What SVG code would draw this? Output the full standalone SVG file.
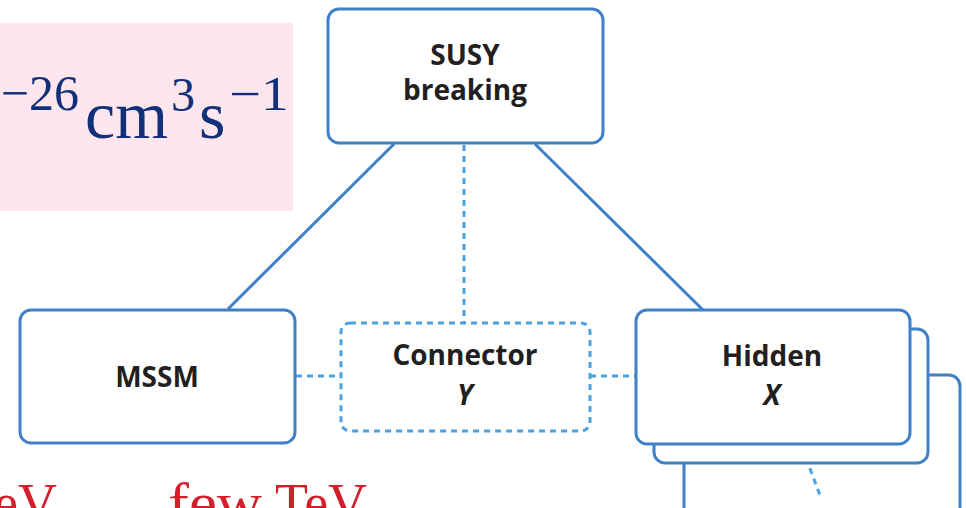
<svg xmlns="http://www.w3.org/2000/svg" width="966" height="508" viewBox="0 0 966 508">
<style>
.box{fill:#fff;stroke:#3f80c6;stroke-width:3}
.dbox{fill:#fff;stroke:#4ba2de;stroke-width:3;stroke-dasharray:6 5}
.lbl{font-family:"Open Sans","Liberation Sans",sans-serif;font-weight:700;font-size:28px;fill:#231f20;text-anchor:middle}
.it{font-style:italic}
.sol{stroke:#3f80c6;stroke-width:3;fill:none}
.dsh{stroke:#4ba2de;stroke-width:3;fill:none;stroke-dasharray:6 5}
.math{font-family:"Liberation Serif","DejaVu Serif",serif;fill:#12307a}
.red{font-family:"Liberation Serif","DejaVu Serif",serif;fill:#d21f2b;font-size:54px}
</style>
<rect x="0" y="23" width="293" height="188" fill="#fde6ee"/>
<g id="formula">
<text class="math" x="79" y="110" font-size="50" text-anchor="end">−26</text>
<text class="math" x="85" y="138" font-size="68" textLength="83" lengthAdjust="spacingAndGlyphs">cm</text>
<text class="math" x="171" y="111" font-size="48">3</text>
<text class="math" x="199" y="138" font-size="68">s</text>
<text class="math" x="229" y="110" font-size="48" textLength="60" lengthAdjust="spacingAndGlyphs">−1</text>
</g>
<g id="bottomtext">
<text class="red" x="57" y="521" text-anchor="end">eV</text>
<text class="red" x="64" y="524">→</text>
<text class="red" x="131" y="530" font-size="48">∼</text>
<text class="red" x="168" y="521" textLength="94" lengthAdjust="spacingAndGlyphs">few</text>
<text class="red" x="275" y="521" textLength="92" lengthAdjust="spacingAndGlyphs">TeV</text>
</g>
<g id="connectors">
<line class="sol" x1="394" y1="144" x2="228" y2="309"/>
<line class="sol" x1="535" y1="144" x2="703" y2="310"/>
<line class="dsh" x1="464" y1="145" x2="464" y2="323"/>
<line class="dsh" x1="296" y1="376" x2="340" y2="376"/>
<line class="dsh" x1="590" y1="376" x2="635" y2="376"/>
</g>
<g id="susy">
<rect class="box" x="328" y="9" width="275" height="134" rx="11"/>
<text class="lbl" x="465" y="65">SUSY</text>
<text class="lbl" x="465" y="100">breaking</text>
</g>
<g id="mssm">
<rect class="box" x="20" y="310" width="275" height="133" rx="11"/>
<text class="lbl" x="157" y="387">MSSM</text>
</g>
<g id="connector">
<rect class="dbox" x="341" y="323" width="249" height="108" rx="9"/>
<text class="lbl" x="465" y="365">Connector</text>
<text class="lbl it" x="465" y="405">Y</text>
</g>
<g id="hidden">
<rect class="box" x="684" y="375" width="276" height="150" rx="11"/>
<line class="dsh" x1="806" y1="458" x2="821" y2="498"/>
<rect class="box" x="654" y="329" width="274" height="134" rx="11"/>
<rect class="box" x="636" y="310" width="274" height="134" rx="11"/>
<text class="lbl" x="772" y="366">Hidden</text>
<text class="lbl it" x="772" y="405">X</text>
</g>
</svg>
